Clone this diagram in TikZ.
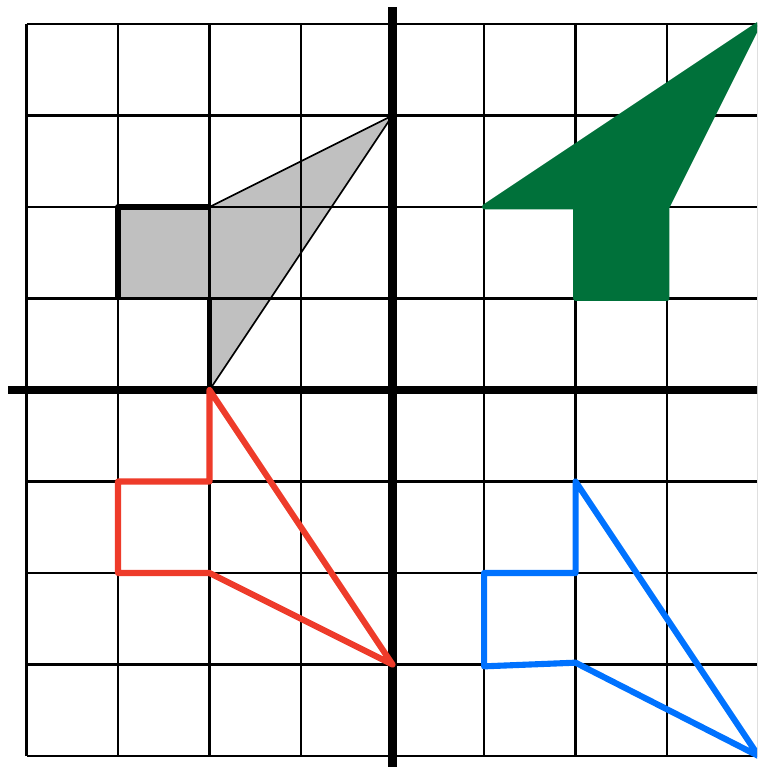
\documentclass[tikz,border=0pt]{standalone}
\definecolor{FigGray}{HTML}{C0C0C0}
\definecolor{FigGreen}{HTML}{00713A}
\definecolor{FigRed}{HTML}{EE3B2A}
\definecolor{FigBlue}{HTML}{0072FF}
\usepackage{tikz}

\begin{document}
\begin{tikzpicture}[x=1cm, y=1cm, line join=round, line cap=round]
            \useasboundingbox (-4.29,-4.12) rectangle (3.984,4.262);
            \clip (-4.29,-4.12) rectangle (3.984,4.262);
            % Gray figure (fill)
            \fill[FigGray] (-3,2) -- (-2,2) -- (0,3) -- (-2,0) -- (-2,1) -- (-3,1) -- cycle;
            % Grid
            \draw[line width=0.8pt, line cap=butt] (-4,-4) grid (4,4);
            % Gray figure (edges)
            \draw[line width=0.5pt] (-2,2) -- (0,3) -- (-2,0);
            \draw[line width=1.6pt, line cap=butt] (-3,1) -- (-3,2) -- (-2,2);
            \draw[line width=1.6pt, line cap=butt] (-2,1) -- (-2,0);
            % Green figure
            \filldraw[FigGreen, line width=1.5pt] (1,2) -- (4,4) -- (3,2) -- (3,1) -- (2,1) -- (2,2) -- cycle;
            % Axes
            \draw[line width=2.6pt, line cap=butt] (-4.2,0) -- (4,0);
            \draw[line width=2.6pt, line cap=butt] (0,-4.2) -- (0,4.19);
            % Red figure
            \draw[FigRed, line width=1.9pt] (-2,0) -- (-2,-1) -- (-3,-1) -- (-3,-2) -- (-2,-2) -- (0,-3) -- cycle;
            % Blue figure
            \draw[FigBlue, line width=1.9pt] (2,-1) -- (2,-2) -- (1,-2) -- (1,-3.02) -- (2,-2.98) -- (4,-4) -- cycle;
         \end{tikzpicture}
\end{document}
